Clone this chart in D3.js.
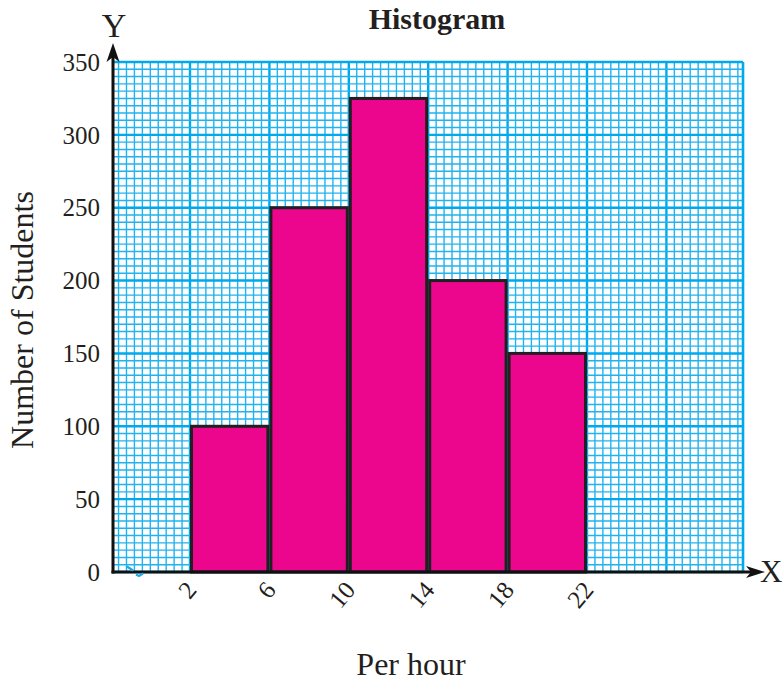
<!DOCTYPE html>
<html>
<head>
<meta charset="utf-8">
<script src="https://cdn.jsdelivr.net/npm/d3@7"></script>
<style>
  html, body { margin: 0; padding: 0; background: #fff; }
  svg { display: block; }
  text { font-family: "Liberation Serif", "Times New Roman", serif; fill: #231f20; }
</style>
</head>
<body>
<svg id="chart" width="783" height="683"></svg>
<script>
// ---- data ----
const binEdges = [2, 6, 10, 14, 18, 22];          // class boundaries (per hour)
const counts = [100, 250, 325, 200, 150];         // number of students per class
const xTickLabels = ["2", "6", "10", "14", "18", "22"];
const yTicks = [0, 50, 100, 150, 200, 250, 300, 350];
const title = "Histogram";
const xTitle = "Per hour";
const yTitle = "Number of Students";

// ---- layout ----
const svg = d3.select("#chart");
const gridLeft = 113, gridRight = 743, gridTop = 62, gridBottom = 572;

const x = d3.scaleLinear().domain([2, 22]).range([190, 587]);
const y = d3.scaleLinear().domain([0, 350]).range([gridBottom, gridTop]);

// ---- graph-paper grid ----
const grid = svg.append("g");
const minorStepX = 0.4, minorStepY = 5;
const xs = d3.range(-2, 30.001, minorStepX).map((v, i) => ({ v, major: i % 10 === 0 }))
  .filter(d => x(d.v) > gridLeft + 1 && x(d.v) < gridRight - 1);
const ys = d3.range(0, 350.001, minorStepY).map((v, i) => ({ v, major: i % 10 === 0 }));

grid.selectAll("line.gx").data(xs).enter().append("line")
  .attr("x1", d => x(d.v)).attr("x2", d => x(d.v))
  .attr("y1", gridTop).attr("y2", gridBottom)
  .attr("stroke", d => d.major ? "#00a9ec" : "#22b2ef")
  .attr("stroke-width", d => d.major ? 2.4 : 1.4);
grid.selectAll("line.gy").data(ys).enter().append("line")
  .attr("x1", gridLeft).attr("x2", gridRight)
  .attr("y1", d => y(d.v)).attr("y2", d => y(d.v))
  .attr("stroke", d => d.major ? "#00a9ec" : "#22b2ef")
  .attr("stroke-width", d => d.major ? 2.4 : 1.4);
// right border
grid.append("line").attr("x1", gridRight).attr("x2", gridRight)
  .attr("y1", gridTop).attr("y2", gridBottom)
  .attr("stroke", "#00a9ec").attr("stroke-width", 2.6);

// ---- bars ----
const bars = counts.map((c, i) => ({ x0: binEdges[i], x1: binEdges[i + 1], c }));
svg.append("g").selectAll("rect").data(bars).enter().append("rect")
  .attr("x", d => x(d.x0) + 1.5)
  .attr("width", d => x(d.x1) - x(d.x0) - 3)
  .attr("y", d => y(d.c))
  .attr("height", d => y(0) - y(d.c))
  .attr("fill", "#ec068d")
  .attr("stroke", "#231f20")
  .attr("stroke-width", 3);

// ---- axes ----
svg.append("line").attr("x1", gridLeft).attr("x2", gridLeft)
  .attr("y1", gridBottom + 1.5).attr("y2", 56)
  .attr("stroke", "#111").attr("stroke-width", 3);
svg.append("line").attr("x1", gridLeft - 1.5).attr("x2", 752)
  .attr("y1", gridBottom).attr("y2", gridBottom)
  .attr("stroke", "#111").attr("stroke-width", 3);
// arrowheads
svg.append("path")
  .attr("d", `M${gridLeft},43 L${gridLeft + 6.5},62 L${gridLeft},57 L${gridLeft - 6.5},62 Z`)
  .attr("fill", "#111");
svg.append("path")
  .attr("d", `M765,${gridBottom} L746,${gridBottom - 6} L751,${gridBottom} L746,${gridBottom + 6} Z`)
  .attr("fill", "#111");
// broken-axis kink
svg.append("path")
  .attr("d", "M127,566.5 L133,570.5 M136,574.5 L139,576 L143,573.5")
  .attr("fill", "none").attr("stroke", "#1ba9e6").attr("stroke-width", 2.2);

// ---- tick labels ----
svg.append("g").selectAll("text").data(yTicks).enter().append("text")
  .attr("x", 100).attr("y", d => y(d)).attr("dy", "0.35em")
  .attr("text-anchor", "end").attr("font-size", 25)
  .text(d => d);

svg.append("g").selectAll("text").data(binEdges).enter().append("text")
  .attr("transform", d => `translate(${x(d) + 1},${gridBottom + 13}) rotate(-50)`)
  .attr("text-anchor", "end").attr("dy", "0.35em").attr("font-size", 25)
  .text((d, i) => xTickLabels[i]);

// ---- titles ----
svg.append("text").attr("x", 437).attr("y", 29).attr("text-anchor", "middle")
  .attr("font-size", 30).attr("font-weight", "bold").text(title);
svg.append("text").attr("x", 411).attr("y", 675).attr("text-anchor", "middle")
  .attr("font-size", 32).text(xTitle);
svg.append("text").attr("transform", "translate(33,320) rotate(-90)")
  .attr("text-anchor", "middle").attr("font-size", 32).text(yTitle);
svg.append("text").attr("x", 114).attr("y", 37).attr("text-anchor", "middle")
  .attr("font-size", 34).text("Y");
svg.append("text").attr("x", 760).attr("y", 582).attr("text-anchor", "start")
  .attr("font-size", 31).text("X");
</script>
</body>
</html>
